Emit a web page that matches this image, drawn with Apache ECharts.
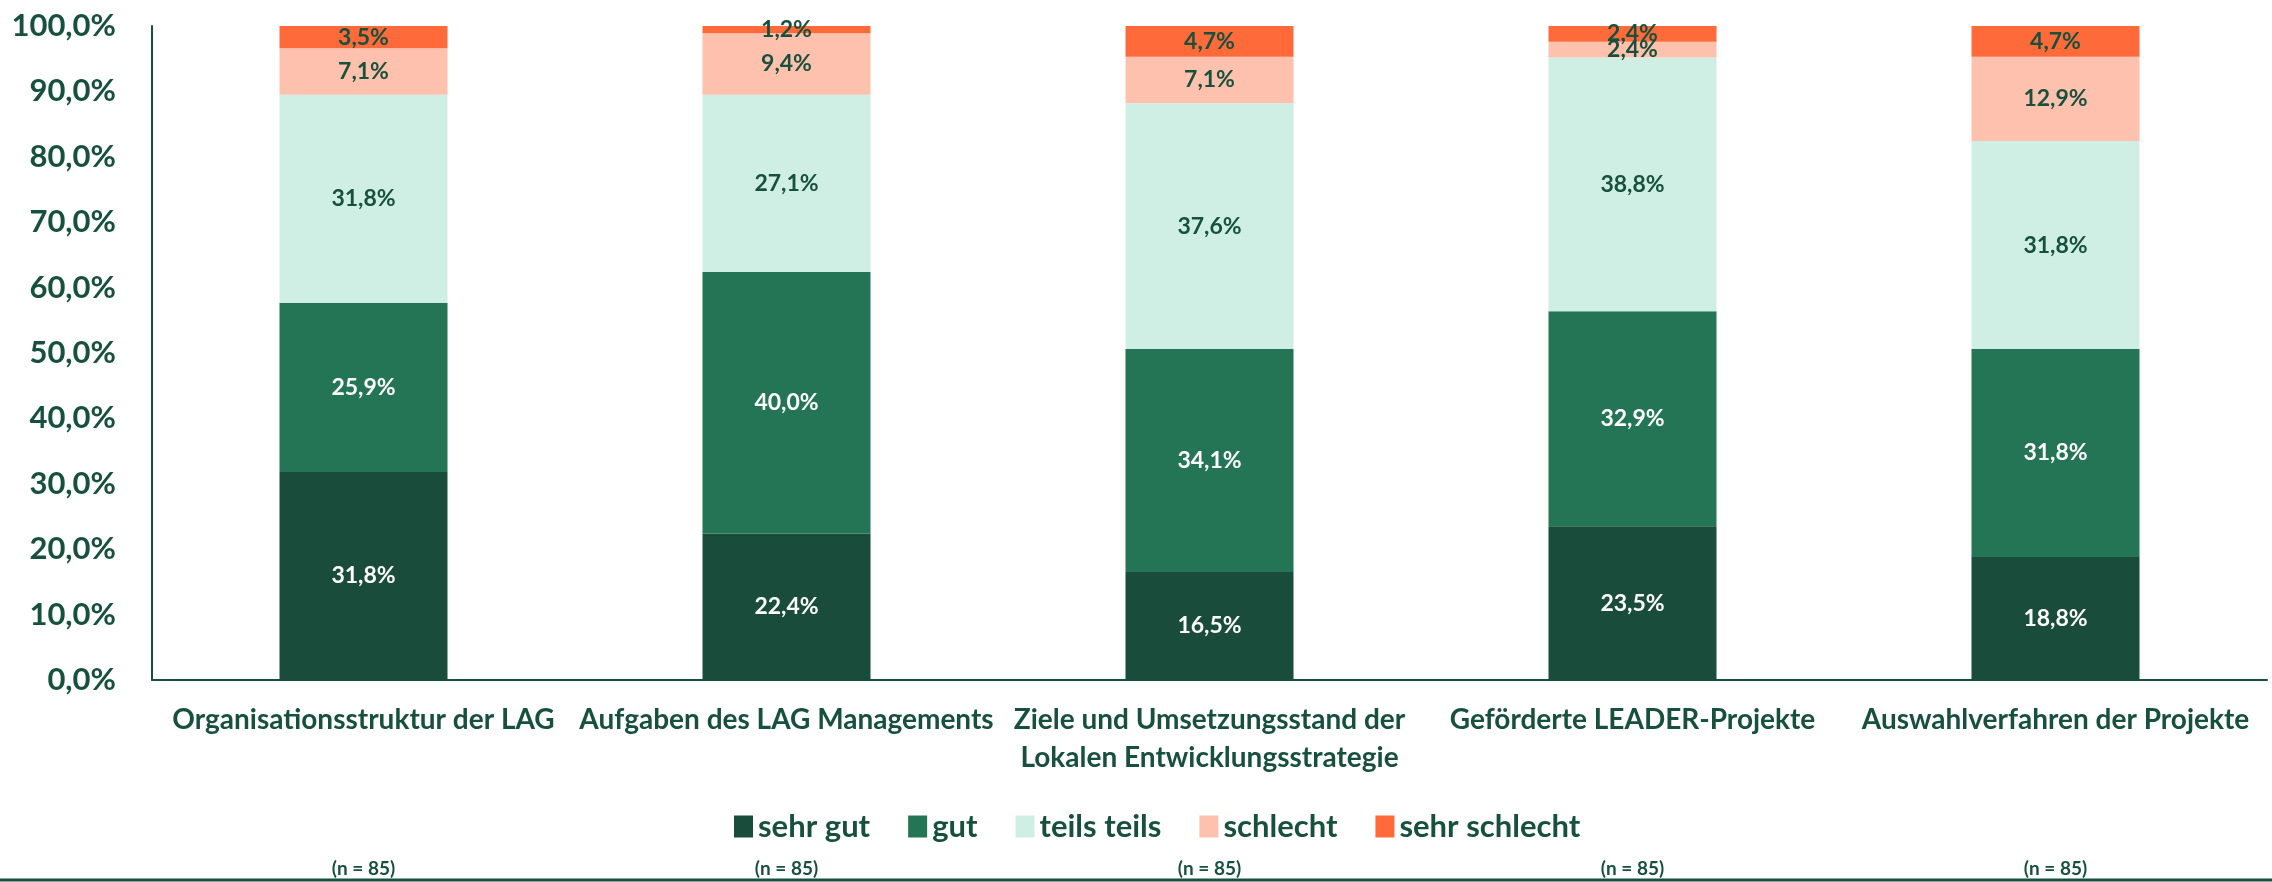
<!DOCTYPE html>
<html>
<head>
<meta charset="utf-8">
<script src="https://cdn.jsdelivr.net/npm/echarts@6/dist/echarts.min.js"></script>
<style>
  html, body { margin: 0; padding: 0; background: #fff; }
  #chart { width: 2272px; height: 882px; }
</style>
</head>
<body>
<div id="chart"></div>
<script>
const categories = [
    'Organisationsstruktur der LAG',
    'Aufgaben des LAG Managements',
    'Ziele und Umsetzungsstand der\nLokalen Entwicklungsstrategie',
    'Geförderte LEADER-Projekte',
    'Auswahlverfahren der Projekte'
];
const sampleSizes = ['(n = 85)', '(n = 85)', '(n = 85)', '(n = 85)', '(n = 85)'];

const sehrGut = [31.8, 22.4, 16.5, 23.5, 18.8];
const gut = [25.9, 40.0, 34.1, 32.9, 31.8];
const teilsTeils = [31.8, 27.1, 37.6, 38.8, 31.8];
const schlecht = [7.1, 9.4, 7.1, 2.4, 12.9];
const sehrSchlecht = [3.5, 1.2, 4.7, 2.4, 4.7];

const textColor = '#17513d';
const fontFamily = 'Lato, "Open Sans", sans-serif';

const fmt = v => v.toFixed(1).replace('.', ',') + '%';

function makeSeries(name, data, color, labelColor) {
    return {
        name: name,
        type: 'bar',
        stack: 'total',
        data: data,
        barWidth: 168,
        itemStyle: { color: color },
        label: {
            show: true,
            position: 'inside',
            formatter: p => fmt(p.value),
            color: labelColor,
            fontFamily: fontFamily,
            fontWeight: 'bold',
            fontSize: 23
        },
        emphasis: { disabled: true }
    };
}

const chart = echarts.init(document.getElementById('chart'));

chart.setOption({
    animation: false,
    textStyle: { fontFamily: fontFamily },
    grid: { left: 152, right: 5, top: 26, bottom: 202, containLabel: false },
    legend: {
        left: 729,
        top: 806,
        icon: 'rect',
        itemWidth: 19,
        itemHeight: 22,
        itemGap: 38,
        textStyle: { color: textColor, fontSize: 31, fontWeight: 'bold', fontFamily: fontFamily },
        data: ['sehr gut', 'gut', 'teils teils', 'schlecht', 'sehr schlecht']
    },
    xAxis: [
        {
            type: 'category',
            data: categories,
            axisLine: { lineStyle: { color: textColor, width: 2 } },
            axisTick: { show: false },
            axisLabel: {
                interval: 0,
                margin: 21,
                color: textColor,
                fontSize: 28,
                fontWeight: 'bold',
                lineHeight: 38,
                fontFamily: fontFamily
            }
        },
        {
            type: 'category',
            data: sampleSizes,
            position: 'bottom',
            offset: 179,
            axisLine: { show: false },
            axisTick: { show: false },
            axisLabel: {
                interval: 0,
                margin: 0,
                color: textColor,
                fontSize: 19,
                fontWeight: 'bold',
                lineHeight: 20,
                fontFamily: fontFamily
            }
        }
    ],
    yAxis: {
        type: 'value',
        min: 0,
        max: 100,
        interval: 10,
        axisLine: { show: true, lineStyle: { color: textColor, width: 2 } },
        axisTick: { show: false },
        splitLine: { show: false },
        axisLabel: {
            margin: 36,
            color: textColor,
            fontSize: 31,
            fontWeight: 'bold',
            fontFamily: fontFamily,
            formatter: v => fmt(v)
        }
    },
    series: [
        makeSeries('sehr gut', sehrGut, '#194c3a', '#ffffff'),
        makeSeries('gut', gut, '#237556', '#ffffff'),
        makeSeries('teils teils', teilsTeils, '#d0efe4', textColor),
        makeSeries('schlecht', schlecht, '#fec1ae', textColor),
        makeSeries('sehr schlecht', sehrSchlecht, '#ff6a3a', textColor)
    ],
    graphic: [
        {
            type: 'line',
            shape: { x1: 0, y1: 880, x2: 2272, y2: 880 },
            style: { stroke: textColor, lineWidth: 3 }
        }
    ]
});
</script>
</body>
</html>
